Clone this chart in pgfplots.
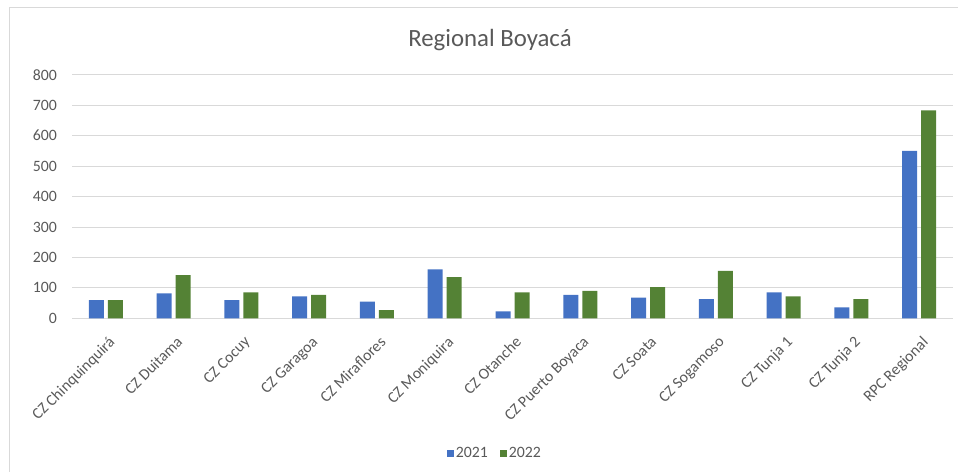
\documentclass[border=0pt]{standalone}
\usepackage{fontspec}
\setmainfont{Carlito}
\usepackage{pgfplots}
\pgfplotsset{compat=1.18}
\definecolor{barblue}{HTML}{4472C4}
\definecolor{bargreen}{HTML}{548235}
\definecolor{txtgray}{HTML}{595959}
\definecolor{gridgray}{HTML}{D9D9D9}
\newcommand{\tickfont}{\fontsize{15.8bp}{18bp}\selectfont}

\begin{document}
\begin{tikzpicture}
  \path[use as bounding box] (0bp,0bp) rectangle (958bp,472bp);
  % chart frame (only left and top edges visible)
  \draw[gridgray, line width=1bp] (9bp,0bp) -- (9bp,464bp) -- (958bp,464bp);
  \node[txtgray, font=\fontsize{24.8bp}{28bp}\selectfont] at (490bp,432bp) {Regional Boyacá};

  \begin{axis}[
    at={(72bp,153.7bp)}, anchor=south west,
    scale only axis,
    width=881bp, height=243.6bp,
    ybar=4bp, bar width=15bp,
    xmin=-0.5, xmax=12.5,
    ymin=0, ymax=800,
    ytick={0,100,...,800},
    xtick=data,
    xticklabels={CZ Chinquinquirá, CZ Duitama, CZ Cocuy, CZ Garagoa, CZ Miraflores,
      CZ Moniquira, CZ Otanche, CZ Puerto Boyaca, CZ Soata, CZ Sogamoso,
      CZ Tunja 1, CZ Tunja 2, RPC Regional},
    major tick length=0pt,
    axis line style={draw=none},
    ymajorgrids, grid style={gridgray, line width=0.9bp},
    /pgf/number format/assume math mode=true,
    yticklabel style={font=\tickfont, text=txtgray, inner sep=0pt, xshift=-15bp},
    % shifts first so they act in page directions, then rotate
    xticklabel style={font=\tickfont, text=txtgray, xshift=2bp, yshift=-17bp,
      rotate=45, anchor=north east, inner sep=0pt},
    legend style={at={(0.48,-0.553)}, anchor=center, draw=none, fill=none,
      legend columns=2, font=\tickfont, text=txtgray,
      /tikz/every even column/.append style={column sep=10bp}},
    legend image code/.code={\fill[#1] (0bp,-3.5bp) rectangle (7bp,3.5bp);},
  ]
    \addplot[fill=barblue, draw=none] coordinates {
      (0,60) (1,82) (2,60) (3,72) (4,55) (5,161) (6,23) (7,77)
      (8,68) (9,63) (10,85) (11,36) (12,550)
    };
    \addlegendentry{2021}
    \addplot[fill=bargreen, draw=none] coordinates {
      (0,60) (1,142) (2,85) (3,77) (4,27) (5,135) (6,85) (7,90)
      (8,102) (9,156) (10,72) (11,63) (12,683)
    };
    \addlegendentry{2022}
  \end{axis}
\end{tikzpicture}
\end{document}
